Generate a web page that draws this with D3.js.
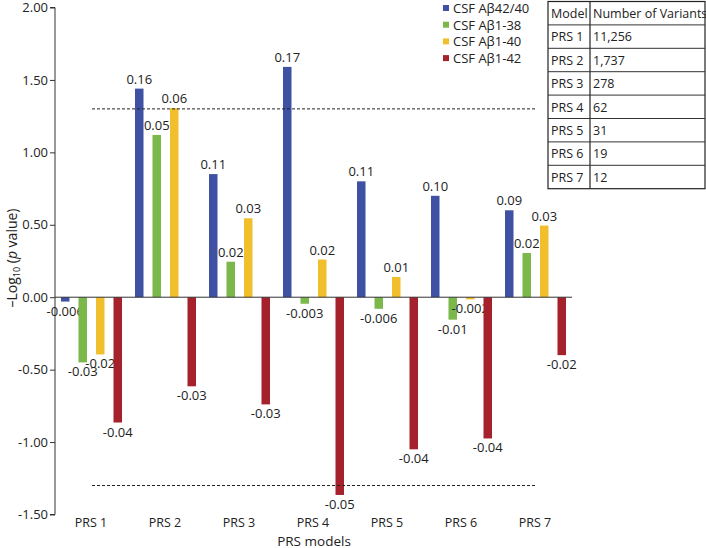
<!DOCTYPE html>
<html><head><meta charset="utf-8">
<script src="https://cdn.jsdelivr.net/npm/d3@7"></script>
<style>body{margin:0;background:#fff}svg{display:block;font-family:"Open Sans",sans-serif}</style>
</head><body><svg id="c" width="706" height="548"></svg>
<script>
const categories = ["PRS 1","PRS 2","PRS 3","PRS 4","PRS 5","PRS 6","PRS 7"];
const seriesNames = ["CSF Aβ42/40","CSF Aβ1-38","CSF Aβ1-40","CSF Aβ1-42"];
const colors = ["#3f51a3","#7bb84a","#f1bf2c","#a5222c"];
const abeta4240 = [-0.03, 1.44, 0.85, 1.59, 0.80, 0.70, 0.60];
const abeta138  = [-0.45, 1.12, 0.245, -0.045, -0.08, -0.155, 0.305];
const abeta140  = [-0.395, 1.305, 0.545, 0.26, 0.14, -0.015, 0.495];
const abeta142  = [-0.865, -0.615, -0.74, -1.365, -1.05, -0.975, -0.40];
const lab4240 = ["-0.006","0.16","0.11","0.17","0.11","0.10","0.09"];
const lab138  = ["-0.03","0.05","0.02","-0.003","-0.006","-0.01","0.02"];
const lab140  = ["-0.02","0.06","0.03","0.02","0.01","-0.002","0.03"];
const lab142  = ["-0.04","-0.03","-0.03","-0.05","-0.04","-0.04","-0.02"];
const yTicks = [2.0,1.5,1.0,0.5,0.0,-0.5,-1.0,-1.5];
const threshold = 1.3;
const tableModels = ["PRS 1","PRS 2","PRS 3","PRS 4","PRS 5","PRS 6","PRS 7"];
const tableVariants = ["11,256","1,737","278","62","31","19","12"];

const values = [abeta4240, abeta138, abeta140, abeta142];
const labels = [lab4240, lab138, lab140, lab142];

const svg = d3.select("#c");
const y = d3.scaleLinear().domain([-1.5, 2]).range([514.5, 7.5]);
const x0 = d3.scaleBand().domain(categories).range([54, 572]);
const x1 = d3.scaleBand().domain(seriesNames).range([7, 68]).paddingInner(0.514);

// y axis
const yAxis = d3.axisLeft(y).tickValues(yTicks).tickSize(5).tickPadding(2)
  .tickFormat(d => d3.format(".2f")(d).replace("−","-"));
const ga = svg.append("g").attr("transform","translate(55,0)").call(yAxis);
ga.select(".domain").attr("stroke","#333").attr("d","M-5,"+y(2)+"H0V"+y(-1.5)+"H-5");
ga.selectAll(".tick line").attr("stroke","#333");
ga.selectAll(".tick text").attr("fill","#222").style("font-size","13px").style("font-family","Open Sans");

// bars
categories.forEach((c, i) => {
  seriesNames.forEach((s, j) => {
    const v = values[j][i];
    const bx = x0(c) + x1(s);
    svg.append("rect").attr("x", bx).attr("width", x1.bandwidth())
      .attr("y", Math.min(y(v), y(0))).attr("height", Math.abs(y(v) - y(0)))
      .attr("fill", colors[j]);
    svg.append("text").attr("x", bx + x1.bandwidth()/2)
      .attr("y", v >= 0 ? y(v) - 5 : y(v) + 14)
      .attr("text-anchor","middle").attr("fill","#222").style("font-size","13px")
      .text(labels[j][i]);
  });
});

// zero line
svg.append("line").attr("x1",55).attr("x2",572).attr("y1",y(0)).attr("y2",y(0)).attr("stroke","#333");

// threshold lines
[threshold, -threshold].forEach(t => {
  svg.append("line").attr("x1", x0(categories[0]) + x0.bandwidth()/2 + 1)
    .attr("x2", x0(categories[6]) + x0.bandwidth()/2)
    .attr("y1", y(t)).attr("y2", y(t))
    .attr("stroke","#222").attr("stroke-width",1).attr("stroke-dasharray","3,2");
});

// x labels
categories.forEach(c => {
  svg.append("text").attr("x", x0(c) + x0.bandwidth()/2).attr("y", 527)
    .attr("text-anchor","middle").attr("fill","#222").style("font-size","12.5px").text(c);
});
svg.append("text").attr("x", 314).attr("y", 545.5).attr("text-anchor","middle")
  .attr("fill","#222").style("font-size","13.5px").text("PRS models");

// y title
const yt = svg.append("text").attr("transform","translate(17,258) rotate(-90)")
  .attr("text-anchor","middle").attr("fill","#222").style("font-size","14px");
yt.append("tspan").text("–Log");
yt.append("tspan").attr("dy",3).style("font-size","9px").text("10");
yt.append("tspan").attr("dy",-3).text(" (");
yt.append("tspan").style("font-style","italic").text("p");
yt.append("tspan").text(" value)");

// legend
seriesNames.forEach((s, j) => {
  const ly = 8 + j * 16.7;
  svg.append("rect").attr("x", 443).attr("y", ly - 3).attr("width", 6).attr("height", 6).attr("fill", colors[j]);
  svg.append("text").attr("x", 453).attr("y", ly + 5).attr("fill","#222").style("font-size","13px").text(s);
});

// table
const tx = 548, tDiv = 590, tRight = 705, tTop = 1.5, rowH = 23.4;
const rows = [["Model","Number of Variants"]].concat(tableModels.map((m,i)=>[m, tableVariants[i]]));
const tg = svg.append("g");
tg.append("rect").attr("x",tx).attr("y",tTop).attr("width",tRight-tx).attr("height",rowH*rows.length)
  .attr("fill","none").attr("stroke","#222").attr("stroke-width",1.2);
tg.append("line").attr("x1",tDiv).attr("x2",tDiv).attr("y1",tTop).attr("y2",tTop+rowH*rows.length).attr("stroke","#222").attr("stroke-width",1.2);
rows.forEach((r, i) => {
  if (i > 0) tg.append("line").attr("x1",tx).attr("x2",tRight).attr("y1",tTop+rowH*i).attr("y2",tTop+rowH*i).attr("stroke","#333").attr("stroke-width",1);
  tg.append("text").attr("x",tx+3).attr("y",tTop+rowH*i+16.5).attr("fill","#222").style("font-size","12.5px").text(r[0]);
  tg.append("text").attr("x",tDiv+3).attr("y",tTop+rowH*i+16.5).attr("fill","#222").style("font-size","12.5px").text(r[1]);
});
</script></body></html>
